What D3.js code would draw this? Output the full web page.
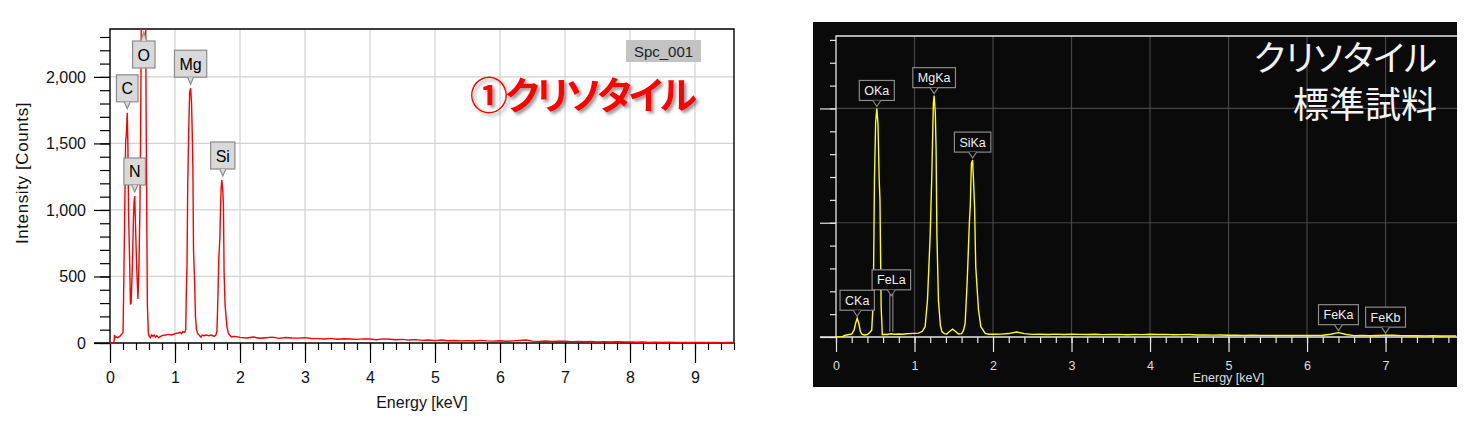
<!DOCTYPE html>
<html><head><meta charset="utf-8">
<script src="https://cdn.jsdelivr.net/npm/d3@7"></script>
<style>body{margin:0;background:#fff;} svg{display:block}</style>
</head><body>
<svg id="c" width="1475" height="430"></svg>
<script>
// ---------- DATA ----------
// Left spectrum (① chrysotile sample), energy [keV] / intensity [counts]
const leftEnergy = [0.00,0.06,0.07,0.08,0.10,0.12,0.15,0.18,0.20,0.205,0.215,0.225,0.24,0.255,0.265,0.275,0.285,0.30,0.315,0.325,0.345,0.36,0.37,0.38,0.39,0.41,0.43,0.445,0.46,0.47,0.48,0.49,0.51,0.53,0.545,0.555,0.565,0.575,0.59,0.60,0.62,0.64,0.66,0.68,0.70,0.72,0.75,0.78,0.80,0.85,0.90,0.95,1.00,1.05,1.08,1.10,1.12,1.15,1.165,1.175,1.185,1.195,1.21,1.225,1.24,1.255,1.265,1.275,1.285,1.30,1.315,1.33,1.35,1.38,1.40,1.42,1.45,1.48,1.52,1.56,1.60,1.63,1.645,1.655,1.665,1.675,1.69,1.70,1.71,1.72,1.735,1.745,1.755,1.77,1.785,1.80,1.82,1.84,1.87,1.90,1.95,
2.0,2.1,2.2,2.3,2.4,2.5,2.6,2.7,2.8,2.9,3.0,3.1,3.2,3.3,3.4,3.5,3.6,3.7,3.8,3.9,4.0,4.1,4.2,4.3,4.4,4.5,4.6,4.7,4.8,4.9,5.0,5.1,5.2,5.3,5.4,5.5,5.6,5.7,5.8,5.9,6.0,6.1,6.2,6.3,6.4,6.5,6.6,6.7,6.8,6.9,7.0,7.1,7.2,7.3,7.4,7.5,7.6,7.7,7.8,7.9,8.0,8.1,8.2,8.3,8.4,8.5,8.6,8.7,8.8,8.9,9.0,9.1,9.2,9.3,9.4,9.5,9.6];
const leftCounts = [0,0,60,40,45,40,50,65,80,200,560,930,1500,1600,1730,1500,1000,660,290,300,590,930,1060,1105,930,575,330,575,1000,1500,2300,2900,3300,3300,2800,1800,1000,280,80,55,40,60,50,60,45,55,40,50,55,60,65,60,70,75,80,70,85,80,100,400,590,1150,1580,1880,1915,1800,1580,1320,700,490,200,100,70,55,45,60,55,60,55,60,50,60,90,250,450,650,780,1000,1165,1225,1150,1040,540,290,200,120,75,60,45,50,48,
42,38,45,36,40,44,35,41,38,37,40,34,33,30,35,28,32,30,27,31,30,25,31,28,24,27,22,25,20,23,18,22,17,19,16,18,15,20,16,14,17,13,16,19,22,14,12,15,11,13,14,10,12,9,11,8,10,7,9,7,8,6,7,5,6,5,6,5,4,5,4,5,4,4,3,4,4];
const leftXTicks = [0,1,2,3,4,5,6,7,8,9];
const leftYTicks = [0,500,1000,1500,2000];
const leftLabels = [
  {name:"C", e:0.265, v:1730},
  {name:"N", e:0.38, v:1105},
  {name:"O", e:0.52, v:3300},
  {name:"Mg", e:1.24, v:1915},
  {name:"Si", e:1.735, v:1225}
];
const leftTag = "Spc_001";
const leftTitle = "①クリソタイル";

// Right spectrum (chrysotile reference standard), arbitrary intensity
const rightEnergy = [0.00,0.08,0.10,0.15,0.20,0.23,0.25,0.27,0.29,0.31,0.33,0.36,0.40,0.43,0.455,0.475,0.49,0.505,0.52,0.535,0.55,0.56,0.575,0.59,0.62,0.65,0.70,0.75,0.80,0.85,0.90,1.00,1.05,1.10,1.135,1.165,1.20,1.22,1.24,1.25,1.265,1.275,1.285,1.305,1.33,1.35,1.38,1.41,1.45,1.485,1.52,1.56,1.60,1.625,1.645,1.67,1.70,1.71,1.725,1.74,1.755,1.765,1.78,1.815,1.845,1.90,1.95,
2.0,2.1,2.2,2.3,2.4,2.5,2.6,2.7,2.8,2.9,3.0,3.1,3.2,3.3,3.4,3.5,3.6,3.7,3.8,3.9,4.0,4.1,4.2,4.3,4.4,4.5,4.6,4.7,4.8,4.9,5.0,5.1,5.2,5.3,5.4,5.5,5.6,5.7,5.8,5.9,6.0,6.1,6.2,6.3,6.4,6.5,6.6,6.7,6.8,6.9,7.0,7.1,7.2,7.3,7.4,7.5,7.6,7.7,7.8,7.9];
const rightCounts = [0,0,60,100,130,300,600,820,600,250,120,90,110,200,300,1600,6900,9400,10000,9300,6900,6000,1330,100,120,110,140,120,130,120,140,160,170,250,450,1600,4500,7000,10200,10560,9800,8200,4500,1600,500,230,150,130,250,340,250,130,150,300,600,2350,5100,5700,7600,7740,6570,5700,3070,1180,450,160,120,
120,125,150,220,150,115,120,110,125,110,120,115,110,120,105,110,115,100,110,105,120,110,115,100,105,110,90,85,80,85,75,80,70,75,70,72,68,70,65,70,68,70,75,120,190,110,60,70,55,65,80,75,60,55,60,50,55,45,50,48];
const rightXTicks = [0,1,2,3,4,5,6,7];
const rightLabels = [
  {name:"CKa", e:0.27, v:820},
  {name:"OKa", e:0.52, v:10000},
  {name:"FeLa", e:0.705, v:140},
  {name:"MgKa", e:1.25, v:10560},
  {name:"SiKa", e:1.74, v:7740},
  {name:"FeKa", e:6.4, v:190},
  {name:"FeKb", e:7.0, v:80}
];
const rightTitle = ["クリソタイル","標準試料"];

// ---------- LAYOUT / STYLE ----------
const svg = d3.select("#c");
const defs = svg.append("defs");
const LF = "'Liberation Sans', Arial, sans-serif";
const JF = "'Noto Sans CJK JP', sans-serif";

// ===== LEFT CHART =====
const L = {x0:110, x1:734, y0:29, y1:343};
const xL = d3.scaleLinear().domain([0,9.6]).range([L.x0,L.x1]);
const yL = d3.scaleLinear().domain([0,2360]).range([L.y1,L.y0]);
const gL = svg.append("g");

// grid
gL.append("g").selectAll("line").data(leftXTicks.slice(1)).join("line")
  .attr("x1",d=>xL(d)).attr("x2",d=>xL(d)).attr("y1",L.y0).attr("y2",L.y1)
  .attr("stroke","#d2d2d2").attr("stroke-width",1.2);
gL.append("g").selectAll("line").data(leftYTicks.slice(1)).join("line")
  .attr("x1",L.x0).attr("x2",L.x1).attr("y1",d=>yL(d)).attr("y2",d=>yL(d))
  .attr("stroke","#d2d2d2").attr("stroke-width",1.2);

// axes
const minorX = d3.range(0, 9.61, 0.2);
const minorYL = d3.range(0, 2301, 100);
gL.append("g").attr("transform",`translate(0,${L.y1})`)
  .call(d3.axisBottom(xL).tickValues(minorX).tickSize(7).tickFormat(""))
  .call(g=>g.select(".domain").remove());
gL.append("g").attr("transform",`translate(0,${L.y1})`)
  .call(d3.axisBottom(xL).tickValues(leftXTicks).tickSize(20).tickPadding(9).tickFormat(d3.format("d")))
  .call(g=>g.select(".domain").remove())
  .call(g=>g.selectAll("text").attr("font-family",LF).attr("font-size",16).attr("fill","#111"));
gL.append("g").attr("transform",`translate(${L.x0},0)`)
  .call(d3.axisLeft(yL).tickValues(minorYL).tickSize(10).tickFormat(""))
  .call(g=>g.select(".domain").remove());
gL.append("g").attr("transform",`translate(${L.x0},0)`)
  .call(d3.axisLeft(yL).tickValues(leftYTicks).tickSize(16).tickPadding(8).tickFormat(d3.format(",")))
  .call(g=>g.select(".domain").remove())
  .call(g=>g.selectAll("text").attr("font-family",LF).attr("font-size",16).attr("fill","#111"));
gL.selectAll(".tick line").attr("stroke","#000").attr("stroke-width",1.2);

// frame
gL.append("path").attr("d",`M${L.x0-16},${L.y1}H${L.x1}V${L.y0}H${L.x0}V${L.y1}`)
  .attr("fill","none").attr("stroke","#000").attr("stroke-width",1.4);

// spectrum
defs.append("clipPath").attr("id","clipL").append("rect")
  .attr("x",L.x0).attr("y",L.y0).attr("width",L.x1-L.x0).attr("height",L.y1-L.y0+1);
const line = (x,y)=>d3.line().x(d=>x(d[0])).y(d=>y(d[1]));
gL.append("path").datum(leftEnergy.map((e,i)=>[e,leftCounts[i]]))
  .attr("clip-path","url(#clipL)")
  .attr("d",line(xL,yL)).attr("fill","none").attr("stroke","#ff0000").attr("stroke-width",1.4);

// axis titles
gL.append("text").attr("x",(L.x0+L.x1)/2).attr("y",408).attr("text-anchor","middle")
  .attr("font-family",LF).attr("font-size",16).attr("fill","#111").text("Energy [keV]");
gL.append("text").attr("transform","translate(27.5,173) rotate(-90)").attr("text-anchor","middle")
  .attr("font-family",LF).attr("font-size",17).attr("letter-spacing",0.6).attr("fill","#111").text("Intensity [Counts]");

// peak labels
leftLabels.forEach(d=>{
  const cx = xL(d.e);
  const g = gL.append("g");
  const t = g.append("text").attr("font-family",LF).attr("font-size",16).attr("fill","#000")
    .attr("text-anchor","middle").text(d.name);
  const w = t.node().getComputedTextLength()+10, h = 27;
  let top, ptr;
  if (yL(d.v) < L.y0) {        // off-scale peak: pointer goes up
    top = L.y0 + 12;
    ptr = `M${cx-3},${top}L${cx},${top-9}L${cx+3},${top}`;
  } else {
    const tip = yL(d.v) - 4;
    const bottom = tip - 7;
    top = bottom - h;
    ptr = `M${cx-3},${bottom}L${cx},${tip}L${cx+3},${bottom}`;
  }
  g.insert("rect","text").attr("x",cx-w/2).attr("y",top).attr("width",w).attr("height",h)
    .attr("fill","#d9d9d9").attr("stroke","#8c8c8c").attr("stroke-width",1.2);
  g.insert("path","text").attr("d",ptr).attr("fill","#d9d9d9").attr("stroke","#8c8c8c").attr("stroke-width",1.2);
  t.attr("x",cx).attr("y",top+h/2+6);
});

// tag box
const tagG = gL.append("g");
tagG.append("rect").attr("x",626).attr("y",40).attr("width",75).attr("height",22).attr("fill","#c3c3c3");
tagG.append("text").attr("x",663.5).attr("y",56.5).attr("text-anchor","middle")
  .attr("font-family",LF).attr("font-size",15).attr("fill","#222").text(leftTag);

// red title with shadow
const f = defs.append("filter").attr("id","sh").attr("x","-10%").attr("y","-20%").attr("width","130%").attr("height","150%");
f.append("feDropShadow").attr("dx",2.5).attr("dy",2.5).attr("stdDeviation",1.6).attr("flood-color","#555").attr("flood-opacity",0.6);
gL.append("text").attr("x",470).attr("y",109).attr("font-family",JF).attr("font-weight",700)
  .attr("font-size",38).attr("letter-spacing",-3).attr("fill","#ff0000").attr("filter","url(#sh)")
  .style("font-feature-settings","'palt'").text(leftTitle);

// ===== RIGHT CHART =====
const R = {x0:836, x1:1457, y0:36, y1:337};
svg.append("rect").attr("x",813).attr("y",22).attr("width",644).attr("height",365).attr("fill","#0a0a0a");
const xR = d3.scaleLinear().domain([0,7.91]).range([R.x0,R.x1]);
const yR = d3.scaleLinear().domain([0,13170]).range([R.y1,R.y0]);
const gR = svg.append("g");

gR.append("g").selectAll("line").data(rightXTicks.slice(1)).join("line")
  .attr("x1",d=>xR(d)).attr("x2",d=>xR(d)).attr("y1",R.y0).attr("y2",R.y1)
  .attr("stroke","#454545").attr("stroke-width",1.2);
gR.append("g").selectAll("line").data([5000,10000]).join("line")
  .attr("x1",R.x0).attr("x2",R.x1).attr("y1",d=>yR(d)).attr("y2",d=>yR(d))
  .attr("stroke","#454545").attr("stroke-width",1.2);

const minorXR = d3.range(0, 7.81, 0.2);
gR.append("g").attr("transform",`translate(0,${R.y1})`)
  .call(d3.axisBottom(xR).tickValues(minorXR).tickSize(6).tickFormat(""))
  .call(g=>g.select(".domain").remove());
gR.append("g").attr("transform",`translate(0,${R.y1})`)
  .call(d3.axisBottom(xR).tickValues(rightXTicks).tickSize(15).tickPadding(9).tickFormat(d3.format("d")))
  .call(g=>g.select(".domain").remove())
  .call(g=>g.selectAll("text").attr("font-family",LF).attr("font-size",12.5).attr("fill","#ddd"));
gR.append("g").attr("transform",`translate(${R.x0},0)`)
  .call(d3.axisLeft(yR).tickValues(d3.range(0,13001,1000)).tickSize(6).tickFormat(""))
  .call(g=>g.select(".domain").remove());
gR.append("g").attr("transform",`translate(${R.x0},0)`)
  .call(d3.axisLeft(yR).tickValues([0,5000,10000]).tickSize(16).tickFormat(""))
  .call(g=>g.select(".domain").remove());
gR.selectAll(".tick line").attr("stroke","#e6e6e6").attr("stroke-width",1.2);

gR.append("path").attr("d",`M${R.x0-16},${R.y1}H${R.x1}M${R.x0},${R.y1}V${R.y0}H${R.x1}`)
  .attr("fill","none").attr("stroke","#e6e6e6").attr("stroke-width",1.3);

defs.append("clipPath").attr("id","clipR").append("rect")
  .attr("x",R.x0).attr("y",R.y0).attr("width",R.x1-R.x0).attr("height",R.y1-R.y0);
gR.append("path").datum(rightEnergy.map((e,i)=>[e,rightCounts[i]]))
  .attr("clip-path","url(#clipR)")
  .attr("d",line(xR,yR)).attr("fill","none").attr("stroke","#ffff00").attr("stroke-width",1.4);

gR.append("text").attr("x",xR(5)).attr("y",382).attr("text-anchor","middle")
  .attr("font-family",LF).attr("font-size",12.5).attr("fill","#ddd").text("Energy [keV]");

const lift = {FeLa:36};
rightLabels.forEach(d=>{
  const cx = xR(d.e);
  const g = gR.append("g");
  const t = g.append("text").attr("font-family",LF).attr("font-size",12.5).attr("fill","#f0f0f0")
    .attr("text-anchor","middle").text(d.name);
  const w = t.node().getComputedTextLength()+10, h = 20;
  const tip = yR(d.v) - 2;
  const bottom = tip - 6 - (lift[d.name]||0);
  const top = bottom - h;
  g.insert("rect","text").attr("x",cx-w/2).attr("y",top).attr("width",w).attr("height",h)
    .attr("fill","#0a0a0a").attr("stroke","#8a8a8a").attr("stroke-width",1.2);
  let p = `M${cx-4},${bottom}L${cx},${bottom+6}L${cx+4},${bottom}`;
  if (lift[d.name]) p += `M${cx-1.5},${bottom+4}V${tip}M${cx+1.5},${bottom+4}V${tip}`;
  g.insert("path","text").attr("d",p).attr("fill","#0a0a0a").attr("stroke","#8a8a8a").attr("stroke-width",1.1);
  t.attr("x",cx).attr("y",top+h/2+4.5);
});

gR.append("text").attr("x",1437).attr("y",71).attr("text-anchor","end")
  .attr("font-family",JF).attr("font-size",35).attr("fill","#f2f2f2")
  .style("font-feature-settings","'palt'").text(rightTitle[0]);
gR.append("text").attr("x",1437).attr("y",118).attr("text-anchor","end")
  .attr("font-family",JF).attr("font-size",36).attr("fill","#f2f2f2").text(rightTitle[1]);
</script>
</body></html>
